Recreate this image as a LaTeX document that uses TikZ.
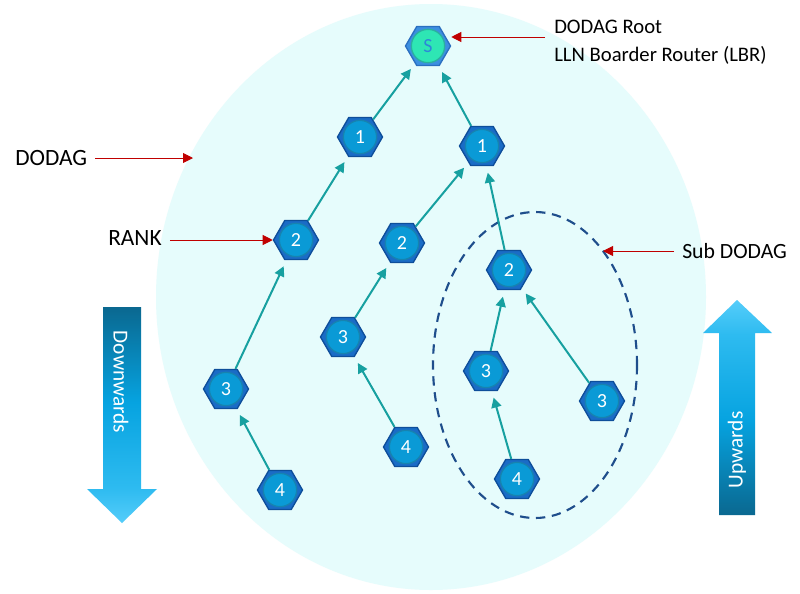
\documentclass[tikz,border=0pt]{standalone}
\usepackage{fontspec}
\setmainfont{Carlito}
\usetikzlibrary{shapes.geometric,arrows.meta}
\definecolor{bgell}{HTML}{E6FCFC}
\definecolor{hexblue}{HTML}{1A6CC6}
\definecolor{hexedge}{HTML}{0E4E9A}
\definecolor{incirc}{HTML}{0A9AD6}
\definecolor{incircedge}{HTML}{1683B0}
\definecolor{roothex}{HTML}{3C8FE0}
\definecolor{roothexedge}{HTML}{2B6FC0}
\definecolor{rootcirc}{HTML}{2EE6B4}
\definecolor{rootcircedge}{HTML}{2BB0A0}
\definecolor{rootletter}{HTML}{2D88D8}
\definecolor{edgeteal}{HTML}{17A0A0}
\definecolor{redarr}{HTML}{C00000}
\definecolor{subdash}{HTML}{1F4E8C}
\definecolor{bigdark}{HTML}{0A6890}
\definecolor{bigmid}{HTML}{06A3E0}
\definecolor{bigltwo}{HTML}{2EBBF0}
\definecolor{biglight}{HTML}{55CDFA}
\pgfdeclareverticalshading{downsh}{100bp}{color(0bp)=(biglight); color(25bp)=(biglight); color(33bp)=(bigltwo); color(53bp)=(bigmid); color(75bp)=(bigdark); color(100bp)=(bigdark)}
\pgfdeclareverticalshading{upsh}{100bp}{color(0bp)=(bigdark); color(25bp)=(bigdark); color(47bp)=(bigmid); color(67bp)=(bigltwo); color(75bp)=(biglight); color(100bp)=(biglight)}
\begin{document}
\begin{tikzpicture}[x=0.75pt,y=-0.75pt,
  hexo/.style={regular polygon, regular polygon sides=6, minimum size=33.75pt, inner sep=0pt, fill=hexblue, draw=hexedge, line width=1pt},
  innc/.style={circle, minimum size=25pt, inner sep=0pt, fill=incirc, draw=incircedge, line width=1pt, text=white, font=\fontsize{15}{15}\selectfont},
  roothexo/.style={hexo, fill=roothex, draw=roothexedge},
  rootc/.style={innc, fill=rootcirc, draw=rootcircedge, text=rootletter},
  edge/.style={draw=edgeteal, line width=1.5pt, shorten >=5pt, -{Triangle[length=7.5pt,width=7.5pt]}},
  redarrow/.style={draw=redarr, line width=0.7pt, -{Triangle[length=7.5pt,width=7.5pt]}},
  lbl/.style={text=black, inner sep=0pt},
  bigtxt/.style={text=white, font=\fontsize{16}{16}\selectfont, inner sep=0pt}
]
\useasboundingbox (0,0) rectangle (800,593);
\fill[white] (0,0) rectangle (800,593);
% DODAG ellipse
\fill[bgell] (431,297) ellipse [x radius=275, y radius=293];
% Sub DODAG dashed ellipse
\draw[subdash, line width=1.6pt, dash pattern=on 7pt off 5pt] (535,365) ellipse [x radius=102, y radius=153];

% nodes
\node[roothexo] (S) at (428,46) {};
\node[rootc] (S-c) at (S) {S};
\node[hexo] (n1a) at (360,137) {}; \node[innc] (n1a-c) at (n1a) {1};
\node[hexo] (n1b) at (482,146) {}; \node[innc] (n1b-c) at (n1b) {1};
\node[hexo] (n2a) at (296,240) {}; \node[innc] (n2a-c) at (n2a) {2};
\node[hexo] (n2b) at (402,243) {}; \node[innc] (n2b-c) at (n2b) {2};
\node[hexo] (n2c) at (509,270) {}; \node[innc] (n2c-c) at (n2c) {2};
\node[hexo] (n3a) at (226,389) {}; \node[innc] (n3a-c) at (n3a) {3};
\node[hexo] (n3b) at (343,337) {}; \node[innc] (n3b-c) at (n3b) {3};
\node[hexo] (n3c) at (486,371) {}; \node[innc] (n3c-c) at (n3c) {3};
\node[hexo] (n3d) at (602,401) {}; \node[innc] (n3d-c) at (n3d) {3};
\node[hexo] (n4a) at (280,490) {}; \node[innc] (n4a-c) at (n4a) {4};
\node[hexo] (n4b) at (406,447) {}; \node[innc] (n4b-c) at (n4b) {4};
\node[hexo] (n4c) at (517,479) {}; \node[innc] (n4c-c) at (n4c) {4};

% edges
\draw[edge] (n1a) -- (S);
\draw[edge] (n1b) -- (S);
\draw[edge] (n2a) -- (n1a);
\draw[edge] (n2b) -- (n1b);
\draw[edge] (n2c) -- (n1b);
\draw[edge] (n3a) -- (n2a);
\draw[edge] (n3b) -- (n2b);
\draw[edge] (n3c) -- (n2c);
\draw[edge] (n3d) -- (n2c);
\draw[edge] (n4a) -- (n3a);
\draw[edge] (n4b) -- (n3b);
\draw[edge] (n4c) -- (n3c);

% labels
\node[lbl, anchor=west, font=\fontsize{15.5}{15.5}\selectfont] (rootA) at (554,27) {DODAG Root};
\node[lbl, anchor=west, font=\fontsize{15.5}{15.5}\selectfont] (rootB) at (554,55) {LLN Boarder Router (LBR)};
\coordinate (rootStart) at (545,37);
\draw[redarrow] (rootStart) -- (S.east |- rootStart);

\node[lbl, anchor=west, font=\fontsize{17.5}{17.5}\selectfont] (dodagL) at (15,158) {DODAG};
\coordinate (dodagEnd) at (193,158);
\draw[redarrow] ([xshift=6pt]dodagL.east) -- (dodagEnd);

\node[lbl, anchor=west, font=\fontsize{17.5}{17.5}\selectfont] (rankL) at (108,238) {RANK};
\draw[redarrow] ([xshift=6pt]rankL.east |- n2a.west) -- (n2a.west);

\node[lbl, anchor=west, font=\fontsize{16.3}{16.3}\selectfont] (subL) at (682,251) {Sub DODAG};
\coordinate (subEnd) at (603,251);
\draw[redarrow] ([xshift=-6pt]subL.west) -- (subEnd);

% big arrows
\shade[shading=downsh]
  (103,307) -- (141,307) -- (141,489) -- (157,489) -- (122,523) -- (87,489) -- (103,489) -- cycle;
\node[bigtxt, rotate=-90] (downT) at (121,382) {Downwards};
\shade[shading=upsh]
  (719,515) -- (755,515) -- (755,333) -- (772,333) -- (737,300) -- (703,333) -- (719,333) -- cycle;
\node[bigtxt, rotate=90] (upT) at (737,450) {Upwards};
\end{tikzpicture}
\end{document}
